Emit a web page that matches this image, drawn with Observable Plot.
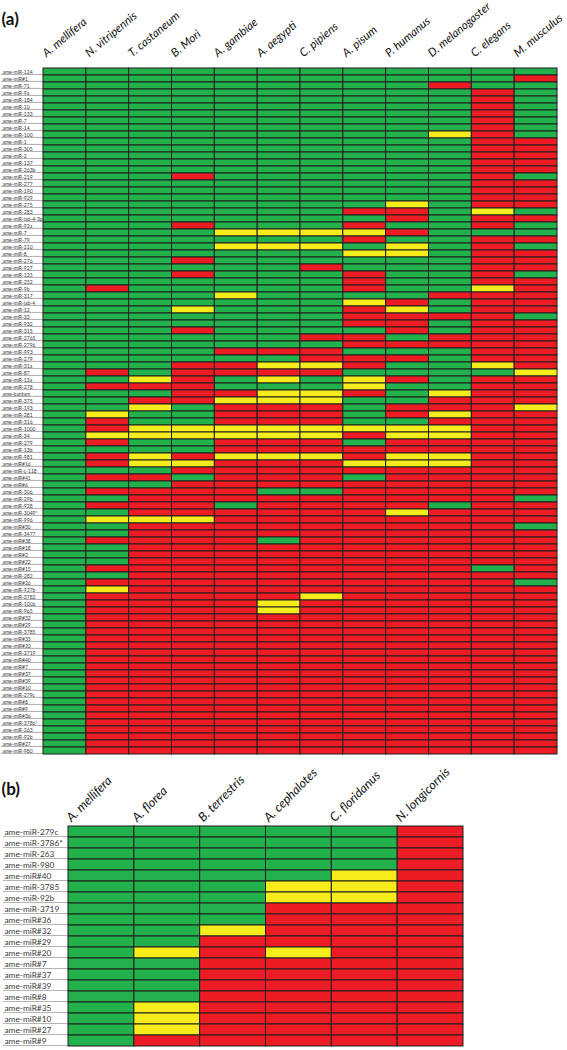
<!DOCTYPE html>
<html>
<head>
<meta charset="utf-8">
<script src="https://cdn.jsdelivr.net/npm/d3@7"></script>
<script src="https://cdn.jsdelivr.net/npm/@observablehq/plot@0.6"></script>
<style>
  html, body { margin: 0; padding: 0; background: #fff; }
  #chart svg { display: block; }
</style>
</head>
<body>
<div id="chart"></div>
<script>
// ---------- Panel (a) ----------
const speciesA = ["A. mellifera", "N. vitripennis", "T. castaneum", "B. Mori", "A. gambiae", "A. aegypti",
  "C. pipiens", "A. pisum", "P. humanus", "D. melanogaster", "C. elegans", "M. musculus"];

const mirnasA = [
  "ame-miR-124", "ame-miR#1", "ame-miR-71", "ame-miR-9a", "ame-miR-184", "ame-miR-10", "ame-miR-133", "ame-miR-7",
  "ame-miR-14", "ame-miR-100", "ame-miR-1", "ame-miR-305", "ame-miR-2", "ame-miR-137", "ame-miR-263b", "ame-miR-219",
  "ame-miR-277", "ame-miR-190", "ame-miR-929", "ame-miR-275", "ame-miR-283", "ame-miR-iab-4-3p", "ame-miR-92a", "ame-miR-7",
  "ame-miR-79", "ame-miR-210", "ame-miR-8", "ame-miR-276", "ame-miR-927", "ame-miR-125", "ame-miR-252", "ame-miR-9b",
  "ame-miR-317", "ame-miR-iab-4", "ame-miR-12", "ame-miR-33", "ame-miR-932", "ame-miR-315", "ame-miR-2765", "ame-miR-2796",
  "ame-miR-993", "ame-miR-279", "ame-miR-31a", "ame-miR-87", "ame-miR-13a", "ame-miR-278", "ame-bantam", "ame-miR-375",
  "ame-miR-193", "ame-miR-281", "ame-miR-316", "ame-miR-1000", "ame-miR-34", "ame-miR-279", "ame-miR-13b", "ame-miR-981",
  "ame-miR#16", "ame-miR-c-118", "ame-miR#41", "ame-miR#6", "ame-miR-306", "ame-miR-29b", "ame-miR-928", "ame-miR-3049*",
  "ame-miR-996", "ame-miR#30", "ame-miR-3477", "ame-miR#38", "ame-miR#18", "ame-miR#2", "ame-miR#22", "ame-miR#15",
  "ame-miR-282", "ame-miR#26", "ame-miR-927b", "ame-miR-3782", "ame-miR-1006", "ame-miR-965", "ame-miR#32", "ame-miR#29",
  "ame-miR-3785", "ame-miR#35", "ame-miR#20", "ame-miR-3719", "ame-miR#40", "ame-miR#7", "ame-miR#37", "ame-miR#39",
  "ame-miR#10", "ame-miR-279c", "ame-miR#8", "ame-miR#9", "ame-miR#36", "ame-miR-3786*", "ame-miR-263", "ame-miR-92b",
  "ame-miR#27", "ame-miR-980"
];

// G = green, Y = yellow, R = red; one character per species column
const statusA = [
  "GGGGGGGGGGGG", "GGGGGGGGGGGR", "GGGGGGGGGRGG", "GGGGGGGGGGRG", "GGGGGGGGGGRG", "GGGGGGGGGGRG", "GGGGGGGGGGRG", "GGGGGGGGGGRG",
  "GGGGGGGGGGRG", "GGGGGGGGGYRG", "GGGGGGGGGGRR", "GGGGGGGGGGRR", "GGGGGGGGGGRR", "GGGGGGGGGGRR", "GGGGGGGGGGRR", "GGGRGGGGGGRG",
  "GGGGGGGGGGRR", "GGGGGGGGGGRR", "GGGGGGGGGGRR", "GGGGGGGGYGRR", "GGGGGGGRRGYG", "GGGGGGGGRGRR", "GGGRGGGRGGRG", "GGGGYYYYRGGG",
  "GGGGGGGRGGRR", "GGGGYYYGYGRG", "GGGGGGGYYGRR", "GGGRGGGGGGRR", "GGGGGGRGGGRR", "GGGRGGGRGGRG", "GGGGGGGRGGRR", "GRGGGGGRGGYR",
  "GGGGYGGGGRRR", "GGGGGGGYRGRR", "GGGYGGGRYGRR", "GGGGGGGRRRRG", "GGGGGGGRRGRR", "GGGRGGGGRGRR", "GGGGGGRRGRRR", "GGGGGGGRRRRR",
  "GGGGRRRGGGRR", "GGGGGGRRRGRR", "GGGRRYYRGGYR", "GRGRRRRGGGGY", "GGYRGYGYRGRR", "GRRRGGGYGGRR", "GGGRRYYRGYRR", "GGRRYYYGGRRR",
  "GGYGRRRGRRRY", "GYGGRRRGRYRR", "GRGGRRRGGRRR", "GRYYYYYYYYRR", "GYYYYYYRYYRR", "GRGGRRRGRRRR", "GGGGRRRRRRRR", "GRYRYYYRYYRR",
  "GRYYRRRYYYRR", "GGGRRRRRRRRR", "GRRGRRRGRRRR", "GGGRRRRRRRRR", "GRRRRGGRRRRR", "GGRRRRRRRRRG", "GRRRGRRRRGRR", "GGRRRRRRYRRR",
  "GYYYRRRRRRRR", "GGRRRRRRRRRG", "GGRRRRRRRRRR", "GRRRRGRRRRRR", "GGRRRRRRRRRR", "GGRRRRRRRRRR", "GGRRRRRRRRRR", "GRRRRRRRRRGR",
  "GGRRRRRRRRRR", "GRRRRRRRRRRG", "GYRRRRRRRRRR", "GRRRRRYRRRRR", "GRRRRYRRRRRR", "GRRRRYRRRRRR", "GRRRRRRRRRRR", "GRRRRRRRRRRR",
  "GRRRRRRRRRRR", "GRRRRRRRRRRR", "GRRRRRRRRRRR", "GRRRRRRRRRRR", "GRRRRRRRRRRR", "GRRRRRRRRRRR", "GRRRRRRRRRRR", "GRRRRRRRRRRR",
  "GRRRRRRRRRRR", "GRRRRRRRRRRR", "GRRRRRRRRRRR", "GRRRRRRRRRRR", "GRRRRRRRRRRR", "GRRRRRRRRRRR", "GRRRRRRRRRRR", "GRRRRRRRRRRR",
  "GRRRRRRRRRRR", "GRRRRRRRRRRR"
];

// ---------- Panel (b) ----------
const speciesB = ["A. mellifera", "A. florea", "B. terrestris", "A. cephalotes", "C. floridanus", "N. longicornis"];
const mirnasB = ["ame-miR-279c", "ame-miR-3786*", "ame-miR-263", "ame-miR-980", "ame-miR#40", "ame-miR-3785", "ame-miR-92b",
  "ame-miR-3719", "ame-miR#36", "ame-miR#32", "ame-miR#29", "ame-miR#20", "ame-miR#7", "ame-miR#37", "ame-miR#39",
  "ame-miR#8", "ame-miR#35", "ame-miR#10", "ame-miR#27", "ame-miR#9"];
const statusB = ["GGGGGR", "GGGGGR", "GGGGGR", "GGGGGR", "GGGGYR", "GGGYYR", "GGGYYR", "GGGRRR", "GGGRRR", "GGYRRR",
  "GGRRRR", "GYRYRR", "GGRRRR", "GGRRRR", "GGRRRR", "GGRRRR", "GYRRRR", "GYRRRR", "GYRRRR", "GRRRRR"];

const statusCodes = ["G", "Y", "R"];
const statusColors = ["#22b14c", "#f7ec1b", "#ed1c24"];

function cells(status) {
  const out = [];
  status.forEach((s, r) => s.split("").forEach((code, c) => out.push({r, c, code})));
  return out;
}

function panel({species, mirnas, status, label, width, height, mt, mb, ml, mr, labelLeft, rowFont, spFont, rot, titleDy}) {
  const n = species.length;
  const unit = (width - ml - mr) / n;
  const bw = (height - mt - mb) / mirnas.length;
  const xLab = -(ml - labelLeft) / unit;
  return Plot.plot({
    width, height,
    marginTop: mt, marginBottom: mb, marginLeft: ml, marginRight: mr,
    x: {type: "linear", domain: [0, n], axis: null},
    y: {type: "band", domain: d3.range(mirnas.length), padding: 0, axis: null},
    color: {domain: statusCodes, range: statusColors},
    style: {fontFamily: "Lato, 'Open Sans', sans-serif", background: "white", overflow: "visible"},
    marks: [
      Plot.barX(mirnas, {x1: xLab, x2: -0.01, y: (d, i) => i, fill: "#b3b3b3", insetTop: bw - 1.3}),
      Plot.text(mirnas, {x: xLab, y: (d, i) => i, text: d => d, textAnchor: "start", dx: 1, fontSize: rowFont, fill: "#3a3a3a"}),
      Plot.barX(cells(status), {x1: "c", x2: d => d.c + 1, y: "r", fill: "code", stroke: "#1e1e1e", strokeWidth: 1}),
      Plot.text(species, {x: (d, i) => i, frameAnchor: "top", text: d => d, rotate: rot, textAnchor: "start",
        lineAnchor: "bottom", dx: 3, dy: -1, fontSize: spFont, fontStyle: "italic", fill: "#111"}),
      Plot.text([label], {frameAnchor: "top-left", text: d => d, dx: -ml + 1, dy: titleDy, fontSize: 17,
        fontWeight: "bold", textAnchor: "start", lineAnchor: "middle", fill: "#111"})
    ]
  });
}

const chart = document.getElementById("chart");
chart.append(panel({species: speciesA, mirnas: mirnasA, status: statusA, label: "(a)",
  width: 567, height: 770, mt: 58, mb: 7, ml: 43, mr: 10, labelLeft: 1, rowFont: 5, spFont: 11.5, rot: -40, titleDy: -39}));
chart.append(panel({species: speciesB, mirnas: mirnasB, status: statusB, label: "(b)",
  width: 567, height: 280, mt: 53, mb: 1, ml: 68, mr: 104, labelLeft: 3, rowFont: 8.3, spFont: 12.5, rot: -45, titleDy: -34}));
</script>
</body>
</html>
